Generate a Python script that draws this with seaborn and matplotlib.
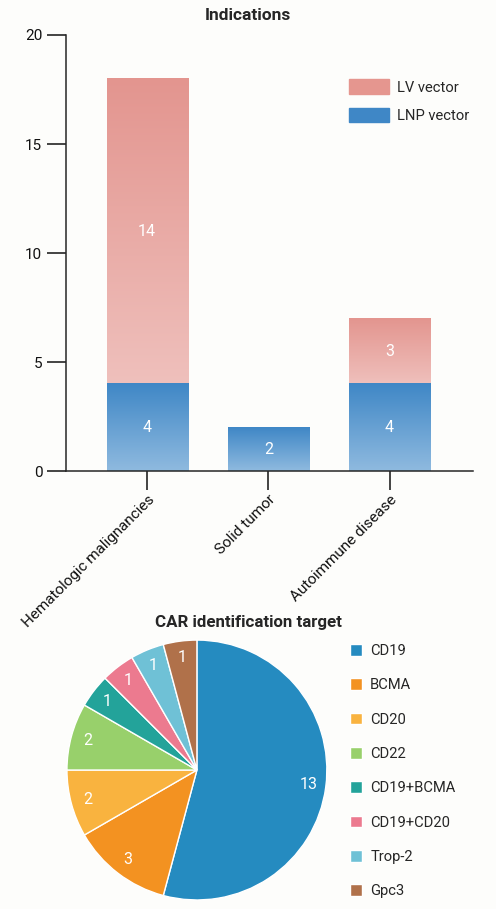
import numpy as np
import pandas as pd
import seaborn as sns
import matplotlib.pyplot as plt
from matplotlib.colors import LinearSegmentedColormap
from matplotlib.patches import Patch

# bar chart data
indications = ["Hematologic malignancies", "Solid tumor", "Autoimmune disease"]
lnp_counts = [4, 2, 4]
lv_counts = [14, 0, 3]

# pie chart data
targets = ["CD19", "BCMA", "CD20", "CD22", "CD19+BCMA", "CD19+CD20", "Trop-2", "Gpc3"]
target_counts = [13, 3, 2, 2, 1, 1, 1, 1]
target_colors = ["#258bc0", "#f39221", "#f9b33f", "#98d06b", "#23a39a", "#ec7a8f", "#6fc1d6", "#b0714a"]

bg = "#fdfdfb"
sns.set_style("ticks")
plt.rcParams["font.family"] = ["Roboto", "DejaVu Sans"]
plt.rcParams["axes.linewidth"] = 1.1

fig = plt.figure(figsize=(4.96, 9.09), dpi=100, facecolor=bg)

# ---- stacked bars ----
ax = fig.add_axes([0.133, 0.4818, 0.821, 0.4797])
ax.set_facecolor(bg)
df = pd.DataFrame({"indication": indications, "LNP": lnp_counts, "LV": lv_counts})
df["total"] = df["LNP"] + df["LV"]

sns.barplot(data=df, x="indication", y="total", color="#e5968f", saturation=1,
            width=0.67, ax=ax, linewidth=0)
n_lv = len(ax.patches)
sns.barplot(data=df, x="indication", y="LNP", color="#3f87c6", saturation=1,
            width=0.67, ax=ax, linewidth=0)

lv_cmap = LinearSegmentedColormap.from_list("lv", ["#efc0bc", "#e3958f"])
lnp_cmap = LinearSegmentedColormap.from_list("lnp", ["#8fbadf", "#3f87c6"])
grad = np.linspace(0, 1, 256).reshape(-1, 1)

lv_patches = ax.patches[:n_lv]
lnp_patches = ax.patches[n_lv:]
for p_lv, p_lnp, lnp, lv in zip(lv_patches, lnp_patches, lnp_counts, lv_counts):
    x0, w = p_lv.get_x(), p_lv.get_width()
    p_lv.set_alpha(0)
    p_lnp.set_alpha(0)
    if lv > 0:
        ax.imshow(grad, cmap=lv_cmap, origin="lower", aspect="auto",
                  extent=[x0, x0 + w, lnp, lnp + lv], zorder=2)
        ax.text(x0 + w / 2, lnp + lv / 2, str(lv), color="white", ha="center",
                va="center", fontsize=11.5, zorder=3)
    ax.imshow(grad, cmap=lnp_cmap, origin="lower", aspect="auto",
              extent=[x0, x0 + w, 0, lnp], zorder=2)
    ax.text(x0 + w / 2, lnp / 2, str(lnp), color="white", ha="center",
            va="center", fontsize=11.5, zorder=3)

ax.set_xlim(-0.67, 2.69)
ax.set_ylim(0, 20)
ax.set_yticks([0, 5, 10, 15, 20])
ax.set_xlabel("")
ax.set_ylabel("")
sns.despine(ax=ax)
ax.tick_params(axis="both", length=13.5, width=1.1, labelsize=11, colors="#111111")
ax.tick_params(axis="x", pad=2)
ax.set_xticks(range(3))
ax.set_xticklabels(indications, rotation=45, ha="right", rotation_mode="anchor")

handles = [Patch(color="#e5968f"), Patch(color="#3f87c6")]
ax.legend(handles, ["LV vector", "LNP vector"], frameon=False, fontsize=10.6,
          loc="upper left", bbox_to_anchor=(0.695, 0.898), borderpad=0,
          borderaxespad=0, handlelength=2.72, handleheight=1.09,
          handletextpad=0.55, labelspacing=0.92)

fig.text(248 / 496, 1 - 16 / 909, "Indications", ha="center", va="center",
         fontsize=12.5, fontweight="bold")

# ---- pie ----
pax = fig.add_axes([0.135, 0.0099, 0.524, 0.286])
total = sum(target_counts)
wedges, _, autotexts = pax.pie(target_counts, colors=target_colors, startangle=90,
                               counterclock=False, pctdistance=0.87,
                               autopct=lambda p: f"{round(p * total / 100)}",
                               textprops=dict(color="white", fontsize=11.5))
pax.set_xlim(-1, 1)
pax.set_ylim(-1, 1)
pax.set_aspect("equal")

fig.legend(wedges, targets, frameon=False, fontsize=10.6, loc="upper left",
           bbox_to_anchor=(350 / 496, 1 - 644 / 909), borderpad=0, borderaxespad=0,
           handlelength=0.82, handleheight=0.82, handletextpad=0.55,
           labelspacing=1.38)

fig.text(248 / 496, 1 - 622 / 909, "CAR identification target", ha="center",
         va="center", fontsize=12.2, fontweight="bold")

fig.savefig("out.png", dpi=100, facecolor=bg)
